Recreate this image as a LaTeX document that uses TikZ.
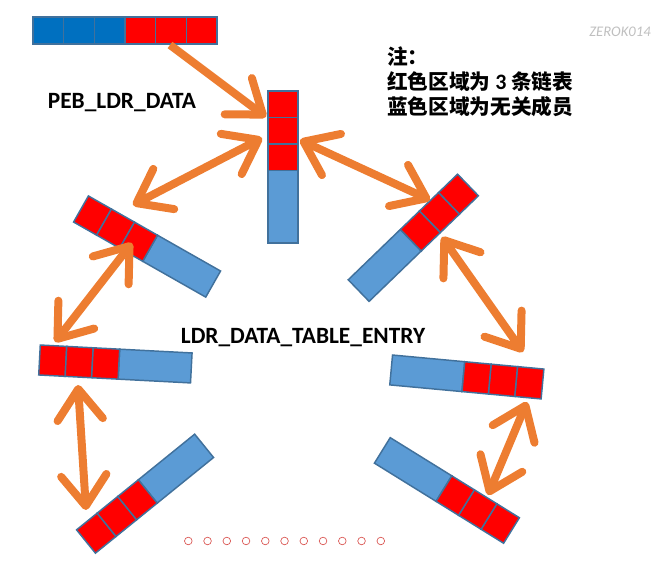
\documentclass[tikz,border=0pt]{standalone}
\usepackage{fontspec}
\setmainfont{Carlito}
\newfontfamily\cjk{Noto Sans CJK SC}
\usetikzlibrary{arrows.meta}
\definecolor{cellred}{HTML}{FF0000}
\definecolor{cellblue}{HTML}{5B9BD5}
\definecolor{headblue}{HTML}{0070C0}
\definecolor{edgeblue}{HTML}{41719C}
\definecolor{linkorange}{HTML}{ED7D31}
\definecolor{dotred}{HTML}{D9534F}
\newcommand{\listbar}[3]{%
  \begin{scope}[shift={(#1,#2)},rotate=#3]
    \filldraw[cell,fill=cellblue] (79.5,-15) rectangle (152,15);
    \foreach \i in {0,1,2}
      \filldraw[cell,fill=cellred] (26.5*\i,-15) rectangle (26.5*\i+26.5,15);
  \end{scope}}
\begin{document}
\begin{tikzpicture}[x=0.75pt,y=0.75pt,
  cell/.style={draw=edgeblue,line width=1.1pt},
  link/.style={draw=linkorange,line width=6pt,>={Straight Barb[round,length=23pt,width=34pt]}},
  title/.style={font=\bfseries\fontsize{17.5}{20}\selectfont}]
\useasboundingbox (0,0) rectangle (672,567);
\foreach \i/\c in {0/headblue,1/headblue,2/headblue,3/cellred,4/cellred,5/cellred}
  \filldraw[cell,fill=\c] (33+30.67*\i,523) rectangle (63.67+30.67*\i,550);
\listbar{283}{476}{-90}
\listbar{81}{358}{-29.6}
\listbar{468}{382}{-136}
\listbar{39.5}{207}{-3}
\listbar{542.5}{183}{174.7}
\listbar{86}{25.5}{39}
\listbar{511.5}{36.5}{148.2}
\coordinate (hdrout) at (170,522);
\coordinate (pebin) at (266,450);
\coordinate (pebl) at (262,429);
\coordinate (e1r) at (133,362);
\coordinate (pebr) at (300,427);
\coordinate (e2l) at (430,367);
\coordinate (e1b) at (132,324);
\coordinate (e3t) at (55,225);
\coordinate (e2b) at (442,330);
\coordinate (e4t) at (523,215);
\coordinate (e3b) at (78,182);
\coordinate (e5t) at (86,57);
\coordinate (e4b) at (527,165);
\coordinate (e6t) at (488,72);
\draw[link,->] (hdrout) -- (pebin);
\draw[link,<->] (pebl) -- (e1r);
\draw[link,<->] (pebr) -- (e2l);
\draw[link,<->] (e1b) -- (e3t);
\draw[link,<->] (e2b) -- (e4t);
\draw[link,<->] (e3b) -- (e5t);
\draw[link,<->] (e4b) -- (e6t);
\node[title] (peb) at (122,464) {PEB\_LDR\_DATA};
\node[title] (entry) at (303,229) {LDR\_DATA\_TABLE\_ENTRY};
\node[anchor=north west,inner sep=0pt,align=left,font=\cjk\bfseries\fontsize{15.5}{19}\selectfont] (note) at (387,521)
  {注：\\红色区域为 {\normalfont\bfseries\fontsize{16.5}{19}\selectfont 3} 条链表\\蓝色区域为无关成员};
\node[font=\itshape\fontsize{11}{12}\selectfont,text=gray!50] (mark) at (620,535) {ZEROK014};
\foreach \i in {0,...,10}
  \draw[dotred,line width=0.5pt] (188.3+19.25*\i,26) circle (2.85pt);
\end{tikzpicture}
\end{document}
